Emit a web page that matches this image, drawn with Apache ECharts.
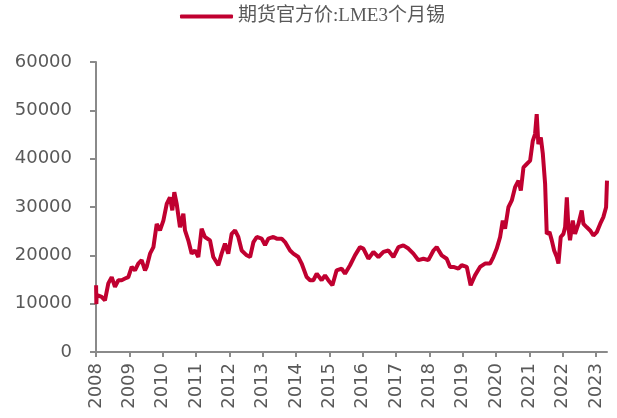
<!DOCTYPE html>
<html>
<head>
<meta charset="utf-8">
<script src="https://cdn.jsdelivr.net/npm/echarts@6/dist/echarts.min.js"></script>
<style>
  html, body { margin: 0; padding: 0; background: #fff; }
  #chart { width: 617px; height: 418px; }
</style>
</head>
<body>
<div id="chart"></div>
<script>
// LME 3-month tin
const seriesName = "期货官方价:LME3个月锡";
const yearTicks = ["2008", "2009", "2010", "2011", "2012", "2013", "2014", "2015",
  "2016", "2017", "2018", "2019", "2020", "2021", "2022", "2023"];

const dates = [
  "2008-01-02", "2008-01-05", "2008-01-08", "2008-03-03", "2008-04-08", "2008-05-15", "2008-06-21", "2008-07-27",
  "2008-09-02", "2008-10-08", "2008-11-14", "2008-12-20", "2009-01-26", "2009-03-03", "2009-04-08", "2009-05-15",
  "2009-06-21", "2009-07-09", "2009-08-15", "2009-09-21", "2009-10-27", "2009-12-02", "2010-01-08", "2010-02-14",
  "2010-03-21", "2010-04-16", "2010-05-08", "2010-06-03", "2010-07-09", "2010-08-15", "2010-09-02", "2010-10-08",
  "2010-11-14", "2010-12-20", "2011-01-26", "2011-03-03", "2011-04-08", "2011-06-03", "2011-07-09", "2011-09-02",
  "2011-10-08", "2011-11-14", "2011-12-20", "2012-01-26", "2012-03-03", "2012-04-08", "2012-05-15", "2012-07-09",
  "2012-08-15", "2012-09-21", "2012-10-27", "2012-12-20", "2013-01-26", "2013-03-03", "2013-04-27", "2013-06-03",
  "2013-07-27", "2013-09-02", "2013-10-27", "2013-12-02", "2014-01-26", "2014-03-03", "2014-04-27", "2014-06-03",
  "2014-07-09", "2014-08-15", "2014-10-08", "2014-11-14", "2014-12-20", "2015-02-03", "2015-03-21", "2015-05-15",
  "2015-06-21", "2015-08-15", "2015-10-08", "2015-12-02", "2016-01-08", "2016-03-03", "2016-04-27", "2016-06-21",
  "2016-08-15", "2016-10-08", "2016-12-02", "2017-01-26", "2017-03-21", "2017-05-15", "2017-07-09", "2017-09-02",
  "2017-10-27", "2017-12-20", "2018-02-14", "2018-03-21", "2018-05-15", "2018-07-09", "2018-08-15", "2018-09-21",
  "2018-11-14", "2018-12-20", "2019-02-14", "2019-03-28", "2019-05-15", "2019-07-09", "2019-09-02", "2019-10-27",
  "2019-12-02", "2020-01-08", "2020-02-14", "2020-03-14", "2020-04-08", "2020-05-15", "2020-06-21", "2020-07-27",
  "2020-09-02", "2020-09-28", "2020-10-27", "2020-12-02", "2021-01-08", "2021-02-06", "2021-03-03", "2021-03-21",
  "2021-04-08", "2021-05-05", "2021-05-27", "2021-06-21", "2021-07-09", "2021-08-08", "2021-09-02", "2021-09-28",
  "2021-10-27", "2021-11-14", "2021-12-09", "2022-01-08", "2022-01-26", "2022-02-14", "2022-03-03", "2022-03-21",
  "2022-04-20", "2022-05-15", "2022-06-21", "2022-07-27", "2022-08-15", "2022-09-21", "2022-10-27", "2022-12-02",
  "2023-01-08", "2023-02-14", "2023-03-21", "2023-04-20", "2023-04-30"
];

const prices = [
  13800, 9900, 11800, 11400, 10700, 14200, 15500, 13500,
  14850, 14850, 15200, 15500, 17600, 16900, 18300, 19000,
  16900, 17600, 20350, 21700, 26500, 25150, 27200, 30650,
  32000, 29300, 33050, 30650, 25800, 28600, 25150, 23100,
  20350, 21000, 19650, 25500, 23800, 23100, 19650, 17950,
  20350, 22400, 20350, 24450, 25150, 23800, 21000, 20000,
  19650, 22750, 23800, 23450, 22100, 23450, 23800, 23450,
  23450, 22750, 21000, 20350, 19650, 18300, 15500, 14850,
  14850, 16200, 14850, 15850, 14850, 13800, 16900, 17250,
  16200, 17950, 20000, 21700, 21400, 19300, 20700, 19650,
  20700, 21000, 19650, 21700, 22050, 21400, 20350, 19000,
  19300, 19000, 21000, 21700, 20000, 19300, 17600, 17600,
  17250, 17950, 17600, 13800, 15850, 17600, 18300, 18300,
  19650, 21400, 23800, 27200, 25500, 29950, 31350, 34100,
  35450, 33400, 38200, 38900, 39600, 43700, 45100, 49200,
  43000, 44400, 41000, 34800, 24450, 24800, 23100, 21000,
  19650, 18300, 23800, 24450, 25800, 32000, 25800, 23100,
  27200, 24450, 26500, 29300, 26500, 25800, 25150, 24100,
  24800, 26500, 27900, 29950, 35450
];

const lineColor = "#C00030";
const axisColor = "#8a8a8a";
const labelColor = "#595959";

const chart = echarts.init(document.getElementById("chart"));

const option = {
  animation: false,
  backgroundColor: "#fff",
  legend: {
    data: [seriesName],
    left: 175,
    top: 2,
    icon: "roundRect",
    itemWidth: 53,
    itemHeight: 4,
    textStyle: {
      fontFamily: "'Liberation Serif', 'Noto Sans CJK SC', serif",
      fontSize: 19,
      color: labelColor,
    },
  },
  grid: {
    left: 96,
    right: 10,
    top: 62,
    bottom: 66,
  },
  xAxis: {
    type: "time",
    min: "2008-01-01",
    max: "2023-04-30",
    axisLine: { lineStyle: { color: axisColor, width: 2 } },
    axisTick: {
      show: true,
      length: 5,
      customValues: yearTicks.map((y) => y + "-01-01"),
      lineStyle: { color: axisColor, width: 2 },
    },
    axisLabel: {
      customValues: yearTicks.map((y) => y + "-01-01"),
      formatter: "{yyyy}",
      rotate: 90,
      margin: 11,
      color: labelColor,
      fontFamily: "'DejaVu Sans', sans-serif",
      fontSize: 18,
    },
    splitLine: { show: false },
  },
  yAxis: {
    type: "value",
    min: 0,
    max: 60000,
    interval: 10000,
    axisLine: { show: true, lineStyle: { color: axisColor, width: 2 } },
    axisTick: { show: true, length: 6, lineStyle: { color: axisColor, width: 2 } },
    axisLabel: {
      margin: 24,
      color: labelColor,
      fontFamily: "'DejaVu Sans', sans-serif",
      fontSize: 18,
      formatter: (v) => String(v),
    },
    splitLine: { show: false },
  },
  series: [
    {
      name: seriesName,
      type: "line",
      data: dates.map((d, i) => [d, prices[i]]),
      showSymbol: false,
      symbol: "none",
      lineStyle: { color: lineColor, width: 4 },
      itemStyle: { color: lineColor },
    },
  ],
};

chart.setOption(option);
</script>
</body>
</html>
